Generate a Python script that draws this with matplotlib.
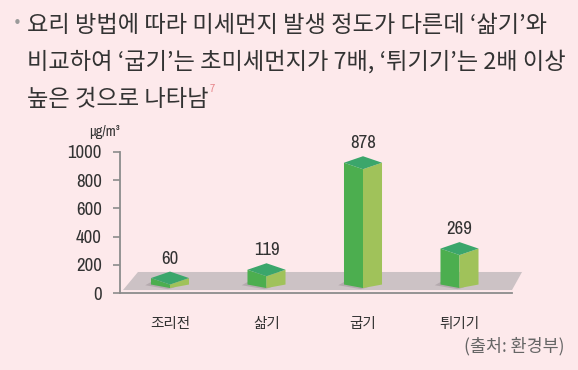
import matplotlib
matplotlib.use("Agg")
import matplotlib.pyplot as plt
from matplotlib.patches import Polygon

categories = ["조리전", "삶기", "굽기", "튀기기"]
values = [60, 119, 878, 269]
yticks = [0, 200, 400, 600, 800, 1000]
title_lines = ["요리 방법에 따라 미세먼지 발생 정도가 다른데 ‘삶기’와",
               "비교하여 ‘굽기’는 초미세먼지가 7배, ‘튀기기’는 2배 이상",
               "높은 것으로 나타남"]
footnote = "7"
unit = "μg/m³"
source = "(출처: 환경부)"

KR = ["Noto Sans CJK KR", "DejaVu Sans"]
NUM = ["Archivo Narrow", "DejaVu Sans"]
BG = "#fde9eb"
W, H = 578, 370
fig = plt.figure(figsize=(W/100, H/100), dpi=100, facecolor=BG)
ax = fig.add_axes([120/W, 1-293/H, (512-120)/W, (293-152)/H])
ax.set_facecolor("none")
ax.set_ylim(0, 1000)
ax.set_xlim((120-170)/96.5, (512-170)/96.5)

# floor
floor = Polygon([(-0.487, 21), (-0.332, 149), (3.648, 149), (3.544, 21)],
                closed=True, facecolor="#ccc2c5", edgecolor="none", clip_on=False, zorder=1)
ax.add_patch(floor)

hw = 0.197
dtop = 46
dbot = 25
yb = 35
for i, v in enumerate(values):
    c = i
    F = (c, v); L = (c-hw, v+dtop); B = (c, v+2*dtop); R = (c+hw, v+dtop)
    Fb = (c, yb); Lb = (c-hw, yb+dbot); Rb = (c+hw, yb+dbot)
    ax.add_patch(Polygon([(c-hw-0.06, yb+20), (c-0.02, yb-8), (c+0.05, yb+5), (c-hw+0.02, yb+dbot+25)],
                         facecolor="#8a7f84", edgecolor="none", alpha=0.35, zorder=2, clip_on=False))
    ax.add_patch(Polygon([Lb, Fb, F, L], facecolor="#4cae4f", edgecolor="none", zorder=3, clip_on=False))
    ax.add_patch(Polygon([Fb, Rb, R, F], facecolor="#a0c25a", edgecolor="none", zorder=3, clip_on=False))
    ax.add_patch(Polygon([F, L, B, R], facecolor="#3ba66b", edgecolor="none", zorder=4, clip_on=False))
    ax.text(c, v+2*dtop+13/0.141, str(v), ha="center", va="center", fontsize=13.5,
            color="#333333", family=NUM, zorder=5)

for s in ["top", "right"]:
    ax.spines[s].set_visible(False)
for s in ["left", "bottom"]:
    ax.spines[s].set_color("#8c8c8c")
    ax.spines[s].set_linewidth(1.3)
ax.set_yticks(yticks)
ax.set_yticklabels([str(t) for t in yticks], fontsize=13.5, color="#333333", family=NUM)
ax.tick_params(axis="y", length=5, width=1.2, color="#8c8c8c", pad=8)
ax.set_xticks(range(len(categories)))
ax.set_xticklabels(categories, fontsize=10.5, color="#333333", family=KR)
ax.tick_params(axis="x", length=0, pad=17.5)

fig.text(104/W, 1-132/H, unit, fontsize=10.5, ha="center", va="center", color="#333333", family=NUM)

fig.text(17/W, 1-23/H, "•", fontsize=11, color="#9a9a9a", ha="center", va="center")
texts = []
for line, y in zip(title_lines, [26, 61.5, 99]):
    texts.append(fig.text(27/W, 1-y/H, line, fontsize=16, color="#333333", ha="left",
                          va="center", family=KR))
fig.canvas.draw()
r = fig.canvas.get_renderer()
w0 = texts[0].get_window_extent(r).width
w1 = texts[1].get_window_extent(r).width
size = min(16 * 545 / w0, 16 * 540 / w1)
for t in texts:
    t.set_fontsize(size)
fig.canvas.draw()
bb = texts[-1].get_window_extent(r)
fig.text(bb.x1/W + 1/W, 1-89/H, footnote, fontsize=8.5, color="#e8898e", ha="left", va="center", family=NUM)
fig.text(565/W, 1-346/H, source, fontsize=12.5, color="#666666", ha="right", va="center", family=KR)

fig.savefig("out.png", dpi=100, facecolor=BG)
